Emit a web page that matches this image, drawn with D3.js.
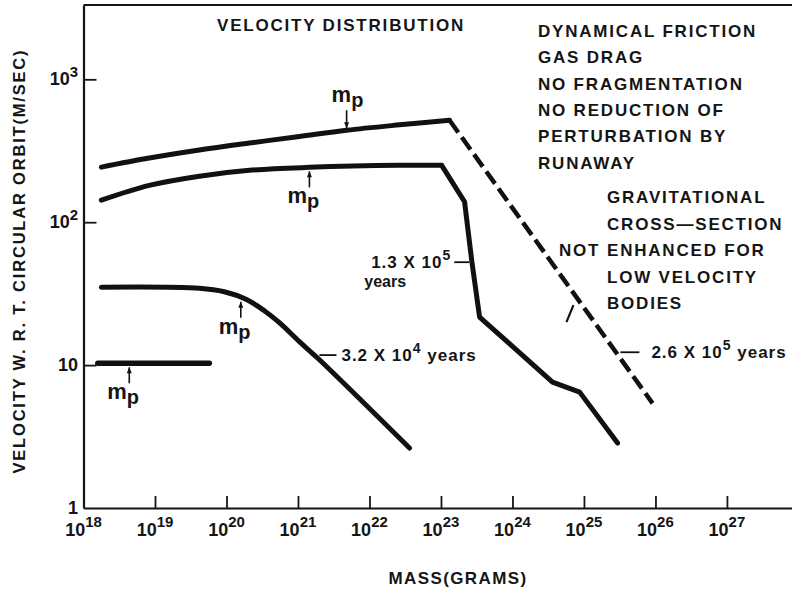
<!DOCTYPE html>
<html>
<head>
<meta charset="utf-8">
<script src="https://cdn.jsdelivr.net/npm/d3@7/dist/d3.min.js"></script>
<style>
body { margin: 0; background: #fff; }
text { font-family: "Liberation Sans", Arial, Helvetica, sans-serif; fill: #151515; font-weight: bold; }
.axis path, .axis line { stroke: #151515; }
</style>
</head>
<body>
<svg width="792" height="590"></svg>
<script>
// log10 of mass (grams) and velocity (m/s)
var massA = [18.25, 18.92, 19.62, 20.32, 21.02, 21.68, 22.42, 23.12];
var velA  = [243, 281, 320, 358, 398, 440, 480, 517];
var massADash = [23.12, 25.96];
var velADash  = [517, 5.4];

var massB = [18.25, 18.92, 19.62, 20.32, 21.16, 22.42, 23.01];
var velB  = [142.6, 181, 210, 231, 242, 250, 250];
var massBDrop = [23.01, 23.33, 23.43, 23.54, 24.56, 24.94, 25.47];
var velBDrop  = [250, 139, 54, 21.7, 7.6, 6.47, 2.85];

var massC = [18.25, 19.62, 19.97, 20.28, 20.53, 20.74, 21.02, 21.30, 22.56];
var velC  = [35.1, 34.5, 32.6, 28.8, 24.0, 19.8, 14.6, 10.9, 2.63];

var massD = [18.2, 19.76];
var velD  = [10.3, 10.3];

var xTickExp = [18, 19, 20, 21, 22, 23, 24, 25, 26, 27];
var yTickVals = [1, 10, 100, 1000];
var yTickBase = ["1", "10", "10", "10"];
var yTickExp  = ["", "", "2", "3"];

// where the m_p arrows point (log mass, velocity)
var mpMass = [21.68, 21.16, 20.20, 18.64];
var mpVel  = [440, 242, 29.6, 10.3];

var notes1 = ["DYNAMICAL FRICTION", "GAS DRAG", "NO FRAGMENTATION", "NO REDUCTION OF", "PERTURBATION BY", "RUNAWAY"];
var notes2 = ["GRAVITATIONAL", "CROSS\u2014SECTION", "ENHANCED FOR", "LOW VELOCITY", "BODIES"];

var svg = d3.select("svg");

var x = d3.scaleLog().domain([1e18, Math.pow(10, 27.91)]).range([83.5, 792]);
var y = d3.scaleLog().domain([1, Math.pow(10, 3.52)]).range([508, 5]);

function px(m) { return x(Math.pow(10, m)); }

// frame + axes
svg.append("line")
    .attr("x1", x.range()[0]).attr("x2", x.range()[1])
    .attr("y1", y.range()[1]).attr("y2", y.range()[1])
    .style("stroke", "#151515").style("stroke-width", 2);

svg.append("g")
    .attr("class", "axis")
    .attr("transform", "translate(0," + y(1) + ")")
    .call(d3.axisBottom(x)
        .tickValues(xTickExp.slice(1).map(function(e) { return Math.pow(10, e); }))
        .tickSize(-12).tickSizeOuter(0).tickFormat(""));

svg.append("g")
    .attr("class", "axis")
    .attr("transform", "translate(" + x(1e18) + ",0)")
    .call(d3.axisLeft(y)
        .tickValues(yTickVals.slice(1))
        .tickSize(-13).tickSizeOuter(0).tickFormat(""));

svg.selectAll(".axis path").style("stroke-width", 2.2);
svg.selectAll(".axis line").style("stroke-width", 1.8);

// x tick labels
var xl = svg.selectAll(".xlab")
    .data(xTickExp)
    .enter().append("text")
    .attr("class", "xlab")
    .attr("x", function(d) { return px(d); })
    .attr("y", 536)
    .attr("text-anchor", "middle")
    .style("font-size", "18px");
xl.append("tspan").text("10");
xl.append("tspan").attr("dy", -9).style("font-size", "15px").text(function(d) { return d; });

// y tick labels
var yl = svg.selectAll(".ylab")
    .data(yTickVals)
    .enter().append("text")
    .attr("class", "ylab")
    .attr("x", 78)
    .attr("y", function(d) { return y(d) + 6; })
    .attr("text-anchor", "end")
    .style("font-size", "18px");
yl.append("tspan").text(function(d, i) { return yTickBase[i]; });
yl.append("tspan").attr("dy", -8).style("font-size", "15px").text(function(d, i) { return yTickExp[i]; });

// axis titles
svg.append("text")
    .attr("transform", "translate(25,262) rotate(-90)")
    .attr("text-anchor", "middle")
    .attr("textLength", 423)
    .attr("lengthAdjust", "spacing")
    .style("font-size", "16.5px")
    .text("VELOCITY W. R. T. CIRCULAR ORBIT(M/SEC)");

svg.append("text")
    .attr("x", 458).attr("y", 584)
    .attr("text-anchor", "middle")
    .style("font-size", "17px")
    .style("letter-spacing", "1.4px")
    .text("MASS(GRAMS)");

// curves
var smooth = d3.line()
    .x(function(d) { return px(d[0]); })
    .y(function(d) { return y(d[1]); })
    .curve(d3.curveCatmullRom.alpha(0.5));
var straight = d3.line()
    .x(function(d) { return px(d[0]); })
    .y(function(d) { return y(d[1]); });

function drawCurve(gen, mass, vel, w, dash) {
    var p = svg.append("path")
        .datum(d3.zip(mass, vel))
        .attr("d", gen)
        .style("fill", "none")
        .style("stroke", "#111")
        .style("stroke-width", w)
        .style("stroke-linejoin", "round")
        .style("stroke-linecap", "round");
    if (dash) p.style("stroke-dasharray", dash).style("stroke-linecap", "butt");
}

drawCurve(smooth, massA, velA, 5);
drawCurve(straight, massADash, velADash, 4.5, "15,6");
drawCurve(smooth, massB, velB, 5);
drawCurve(straight, massBDrop, velBDrop, 5);
drawCurve(smooth, massC, velC, 5);
drawCurve(straight, massD, velD, 5.5);

// m_p markers
mpMass.forEach(function(m, i) {
    var cx = px(m), cy = y(mpVel[i]);
    var up = i > 0;
    var head = up ? cy + 4 : cy - 2;
    var tail = up ? cy + 20 : cy - 20;
    svg.append("line")
        .attr("x1", cx).attr("x2", cx)
        .attr("y1", tail).attr("y2", head)
        .style("stroke", "#111").style("stroke-width", 1.6);
    var s = up ? 1 : -1;
    svg.append("path")
        .attr("d", "M" + cx + "," + head + "L" + (cx - 2.5) + "," + (head + 6 * s) + "L" + (cx + 2.5) + "," + (head + 6 * s) + "Z")
        .style("fill", "#111");
    var t = svg.append("text")
        .attr("x", up ? cx - 22 : cx - 15)
        .attr("y", up ? cy + 36 : cy - 28)
        .style("font-size", "22px");
    t.append("tspan").text("m");
    t.append("tspan").attr("dy", 5).style("font-size", "20px").text("p");
});

// time labels with leaders
function leader(x1, x2, yy) {
    svg.append("line")
        .attr("x1", x1).attr("x2", x2)
        .attr("y1", yy).attr("y2", yy)
        .style("stroke", "#111").style("stroke-width", 1.8);
}

var ax = px(21.30), ay = y(11.75);
leader(ax, ax + 17, ay);
var t1 = svg.append("text").attr("x", ax + 22).attr("y", ay + 6)
    .style("font-size", "17px").style("letter-spacing", "1px");
t1.append("tspan").text("3.2 X 10");
t1.append("tspan").attr("dy", -8).style("font-size", "14px").text("4");
t1.append("tspan").attr("dy", 8).text(" years");

var bx = px(25.51), by = y(12.3);
leader(bx, bx + 19, by);
var t2 = svg.append("text").attr("x", bx + 31).attr("y", by + 6)
    .style("font-size", "17px").style("letter-spacing", "1px");
t2.append("tspan").text("2.6 X 10");
t2.append("tspan").attr("dy", -8).style("font-size", "14px").text("5");
t2.append("tspan").attr("dy", 8).text(" years");

var cx3 = px(23.41), cy3 = y(52.5);
leader(cx3 - 16, cx3 - 1, cy3);
var t3 = svg.append("text").attr("x", cx3 - 19).attr("y", cy3 + 6)
    .attr("text-anchor", "end")
    .style("font-size", "17px").style("letter-spacing", "1px");
t3.append("tspan").text("1.3 X 10");
t3.append("tspan").attr("dy", -8).style("font-size", "14px").text("5");
svg.append("text").attr("x", cx3 - 106).attr("y", cy3 + 25)
    .style("font-size", "16px").text("years");

// stray tick under the dashed line
svg.append("path")
    .datum([[24.755, 20], [24.853, 26.3]])
    .attr("d", straight)
    .style("stroke", "#111").style("stroke-width", 2.2);

// titles and notes
svg.append("text")
    .attr("x", 217).attr("y", 31)
    .style("font-size", "17px").style("letter-spacing", "1.8px")
    .text("VELOCITY DISTRIBUTION");

svg.selectAll(".note1")
    .data(notes1)
    .enter().append("text")
    .attr("class", "note1")
    .attr("x", 538)
    .attr("y", function(d, i) { return 37 + i * 26.3; })
    .style("font-size", "17px").style("letter-spacing", "1.8px")
    .text(function(d) { return d; });

svg.selectAll(".note2")
    .data(notes2)
    .enter().append("text")
    .attr("class", "note2")
    .attr("x", 607)
    .attr("y", function(d, i) { return 203 + i * 26.5; })
    .style("font-size", "17px").style("letter-spacing", "1.8px")
    .text(function(d) { return d; });

svg.append("text")
    .attr("x", 559).attr("y", 256)
    .style("font-size", "17px").style("letter-spacing", "1.8px")
    .text("NOT");
</script>
</body>
</html>
